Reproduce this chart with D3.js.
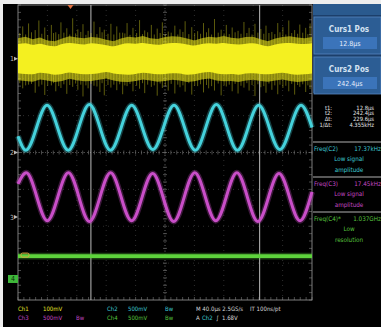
<!DOCTYPE html>
<html><head><meta charset="utf-8">
<script src="https://cdn.jsdelivr.net/npm/d3@7"></script>
<style>
html,body{margin:0;padding:0;background:#fff;}
svg{display:block;}
text{font-family:"DejaVu Sans","Liberation Sans",sans-serif;font-stretch:condensed;}
</style></head>
<body>
<svg id="c" width="381" height="327"></svg>
<script>
// ---------------- DATA ----------------
const timeDomain = [-86.4, 313.6];
const cursorTimes = [12.8, 242.4];
const ch2Points = [[-86.4,0.22],[-75.7,0.03],[-46.9,0.64],[-18.1,0.03],[10.7,0.65],[39.5,0.03],[68.3,0.64],[97.1,0.04],[125.9,0.64],[154.7,0.03],[183.5,0.65],[212.3,0.03],[241.1,0.64],[269.9,0.04],[298.7,0.64],[313.6,0.34]];
const ch3Points = [[-86.4,0.45],[-75.2,0.60],[-46.5,-0.05],[-17.8,0.60],[10.8,-0.06],[39.5,0.60],[68.1,-0.05],[96.8,0.59],[125.4,-0.06],[154.1,0.60],[182.7,-0.05],[211.4,0.60],[240.0,-0.06],[268.7,0.59],[297.3,-0.05],[313.6,0.34]];
const ch4Points = [[-86.4,0.31],[0,0.31],[100,0.31],[200,0.31],[313.6,0.31]];
const ch1Times = [-86.4,-76.4,-66.4,-56.4,-46.4,-36.4,-26.4,-16.4,-6.4,3.6,13.6,23.6,33.6,43.6,53.6,63.6,73.6,83.6,93.6,103.6,113.6,123.6,133.6,143.6,153.6,163.6,173.6,183.6,193.6,203.6,213.6,223.6,233.6,243.6,253.6,263.6,273.6,283.6,293.6,303.6,313.6];
const ch1CoreHi = [40,42,38,41,36,34,40,43,41,39,42,40,37,34,39,42,41,43,40,38,41,43,42,39,36,40,42,41,43,40,39,41,42,38,34,39,42,43,41,40,42];
const ch1CoreLo = [-39,-41,-42,-38,-40,-43,-41,-37,-40,-42,-41,-39,-36,-40,-42,-43,-41,-38,-40,-42,-41,-39,-40,-43,-42,-38,-36,-40,-42,-41,-43,-40,-39,-41,-42,-40,-38,-41,-43,-42,-40];
const ch1FringeHi = [56,60,53,58,50,48,55,61,58,56,59,57,52,48,55,60,58,62,56,54,59,61,60,55,50,56,60,58,62,57,55,59,60,53,48,55,59,61,58,56,59];
const ch1FringeLo = [-58,-60,-62,-56,-59,-63,-60,-54,-58,-61,-60,-57,-53,-59,-62,-63,-60,-56,-59,-62,-60,-57,-59,-63,-61,-56,-53,-59,-61,-60,-63,-59,-57,-60,-62,-59,-56,-60,-63,-61,-58];
// noise hairlines: [time µs, top mV, bottom mV]
const ch1Spikes = [[-84,70,-66],[-80,88,-80],[-76,66,-72],[-72,96,-70],[-68,72,-68],[-63,78,-92],[-58,104,-75],[-54,68,-70],[-50,85,-98],[-46,64,-73],[-41,92,-72],[-38,70,-66],[-35,72,-88],[-31,67,-74],[-28,99,-79],[-24,71,-69],[-20,83,-95],[-16,66,-71],[-12,110,-76],[-8,69,-67],[-5,80,-84],[-1,73,-70],[2,94,-102],[6,65,-72],[9,76,-80],[13,70,-68],[17,101,-73],[21,67,-75],[25,86,-90],[28,72,-66],[31,79,-99],[36,68,-71],[40,95,-78],[44,66,-70],[48,88,-85],[52,71,-69],[56,71,-96],[59,69,-72],[62,97,-74],[66,65,-68],[70,84,-88],[75,70,-73],[79,105,-81],[83,67,-66],[86,77,-93],[90,72,-70],[95,92,-76],[99,66,-72],[103,82,-100],[107,70,-67],[110,99,-79],[114,68,-74],[118,74,-86],[122,71,-68],[127,90,-94],[131,66,-70],[134,80,-77],[138,73,-72],[141,102,-89],[146,67,-66],[150,86,-97],[154,70,-73],[158,75,-74],[162,68,-69],[166,97,-91],[170,72,-71],[173,83,-80],[177,66,-74],[181,108,-86],[186,71,-67],[190,79,-99],[194,69,-72],[197,92,-75],[201,67,-70],[205,85,-88],[209,72,-68],[213,76,-94],[217,68,-73],[221,100,-78],[225,70,-66],[228,84,-86],[232,66,-71],[236,95,-101],[240,71,-69],[244,81,-77],[248,68,-74],[251,90,-92],[255,70,-67],[259,73,-84],[263,67,-72],[267,97,-96],[270,72,-70],[274,86,-79],[278,66,-73],[282,104,-88],[286,70,-68],[290,78,-97],[294,68,-71],[297,93,-76],[301,71,-69],[305,84,-90],[308,67,-72],[311,96,-82]];
const ch1VoltsPerDiv = 0.1, ch2VoltsPerDiv = 0.5, ch3VoltsPerDiv = 0.5, ch4VoltsPerDiv = 0.5;
const row1Labels = [["Ch1","#e6e22a"],["100mV","#e6e22a"],["Ch2","#3fc9d3"],["500mV","#3fc9d3"],["Bw","#3fc9d3"],["M 40.0µs 2.5GS/s","#d8d8d8"],["IT 100ns/pt","#d8d8d8"]];
const row2Labels = [["Ch3","#c448c4"],["500mV","#c448c4"],["Bw","#c448c4"],["Ch4","#57c23e"],["500mV","#57c23e"],["Bw","#57c23e"],["A","#d8d8d8"],["Ch2","#3fc9d3"],["∫","#d8d8d8"],["1.68V","#d8d8d8"]];
const cursorBoxes = [["Curs1 Pos","12.8µs"],["Curs2 Pos","242.4µs"]];
const readLabels = ["t1:","t2:","Δt:","1/Δt:"];
const readValues = ["12.8µs","242.4µs","229.6µs","4.355kHz"];
const measures = [["Freq(C2)","17.37kHz","#3fc9d3",["Low signal","amplitude"]],["Freq(C3)","17.45kHz","#c448c4",["Low signal","amplitude"]],["Freq(C4)*","1.037GHz","#57c23e",["Low","resolution"]]];

// ---------------- LAYOUT ----------------
const G = {x0:18, x1:312, y0:5, y1:300};
const xS = d3.scaleLinear().domain(timeDomain).range([G.x0, G.x1]);
const yS = d3.scaleLinear().domain([-4,4]).range([G.y1, G.y0]);
const offs = {1:2.54, 2:0, 3:-1.75, 4:-3.43};

const svg = d3.select("#c");
svg.append("rect").attr("x",0).attr("y",0).attr("width",381).attr("height",327).attr("fill","#eeeeee");
svg.append("rect").attr("x",3).attr("y",4).attr("width",378).attr("height",323).attr("fill","#000");

const gr = svg.append("g");
const divX = d3.range(0,11).map(i => G.x0 + i*(G.x1-G.x0)/10);
const divY = d3.range(-4,5);
divX.slice(1,10).forEach(x => gr.append("line").attr("x1",x).attr("x2",x).attr("y1",G.y0).attr("y2",G.y1)
  .attr("stroke","#3a3a3a").attr("stroke-width",0.8).attr("stroke-dasharray","1,4"));
divY.slice(1,8).forEach(d => gr.append("line").attr("x1",G.x0).attr("x2",G.x1).attr("y1",yS(d)).attr("y2",yS(d))
  .attr("stroke","#3a3a3a").attr("stroke-width",0.8).attr("stroke-dasharray","1,4"));
const cx = (G.x0+G.x1)/2, cy = yS(0);
gr.append("line").attr("x1",cx).attr("x2",cx).attr("y1",G.y0).attr("y2",G.y1).attr("stroke","#5a5a5a").attr("stroke-width",0.8).attr("stroke-dasharray","1,2");
gr.append("line").attr("x1",G.x0).attr("x2",G.x1).attr("y1",cy).attr("y2",cy).attr("stroke","#5a5a5a").attr("stroke-width",0.8).attr("stroke-dasharray","1,2");
d3.range(0,51).forEach(i => {
  const x = G.x0 + i*(G.x1-G.x0)/50;
  gr.append("line").attr("x1",x).attr("x2",x).attr("y1",cy-2).attr("y2",cy+2).attr("stroke","#6a6a6a").attr("stroke-width",0.7);
  gr.append("line").attr("x1",x).attr("x2",x).attr("y1",G.y1-3).attr("y2",G.y1).attr("stroke","#6a6a6a").attr("stroke-width",0.7);
});
d3.range(0,41).forEach(i => {
  const y = G.y0 + i*(G.y1-G.y0)/40;
  gr.append("line").attr("x1",cx-2).attr("x2",cx+2).attr("y1",y).attr("y2",y).attr("stroke","#6a6a6a").attr("stroke-width",0.7);
  gr.append("line").attr("x1",G.x0).attr("x2",G.x0+3).attr("y1",y).attr("y2",y).attr("stroke","#6a6a6a").attr("stroke-width",0.7);
  gr.append("line").attr("x1",G.x1-3).attr("x2",G.x1).attr("y1",y).attr("y2",y).attr("stroke","#6a6a6a").attr("stroke-width",0.7);
});
gr.append("rect").attr("x",G.x0).attr("y",G.y0).attr("width",G.x1-G.x0).attr("height",G.y1-G.y0)
  .attr("fill","none").attr("stroke","#8a8a8a").attr("stroke-width",0.9);

cursorTimes.forEach(t => svg.append("line").attr("x1",xS(t)).attr("x2",xS(t)).attr("y1",G.y0).attr("y2",G.y1)
  .attr("stroke","#bdbdbd").attr("stroke-width",1));

// ch1 noise
const y1 = mv => yS(offs[1] + mv/1000/ch1VoltsPerDiv);
const spk = svg.append("g");
ch1Spikes.forEach(s => spk.append("line").attr("x1",xS(s[0])).attr("x2",xS(s[0])).attr("y1",y1(s[1])).attr("y2",y1(s[2]))
  .attr("stroke","#e8e420").attr("stroke-width",0.9).attr("opacity",0.45));
const areaF = d3.area().x((d,i)=>xS(ch1Times[i])).curve(d3.curveLinear);
svg.append("path").datum(ch1Times).attr("d", areaF.y0((d,i)=>y1(ch1FringeLo[i])).y1((d,i)=>y1(ch1FringeHi[i])))
  .attr("fill","#e4e01a").attr("opacity",0.6);
svg.append("path").datum(ch1Times).attr("d", areaF.y0((d,i)=>y1(ch1CoreLo[i])).y1((d,i)=>y1(ch1CoreHi[i])).curve(d3.curveMonotoneX))
  .attr("fill","#f4f020");

function trace(pts, ch, vpd, color, w){
  const line = d3.line().x(d=>xS(d[0])).y(d=>yS(offs[ch] + d[1]/vpd)).curve(d3.curveMonotoneX);
  svg.append("path").attr("d",line(pts)).attr("fill","none").attr("stroke",color).attr("stroke-width",w+3).attr("opacity",0.3);
  svg.append("path").attr("d",line(pts)).attr("fill","none").attr("stroke",color).attr("stroke-width",w);
}
trace(ch2Points, 2, ch2VoltsPerDiv, "#45d2dc", 3.0);
trace(ch3Points, 3, ch3VoltsPerDiv, "#c94ec8", 3.0);
trace(ch4Points, 4, ch4VoltsPerDiv, "#5ed43c", 3.6);

const mk = svg.append("g");
[[1,"1"],[2,"2"],[3,"3"]].forEach(([c,l]) => {
  const y = yS(offs[c]);
  mk.append("text").attr("x",10).attr("y",y+2.5).attr("font-size",7).attr("fill","#b8b8b8").text(l);
  mk.append("path").attr("d",`M14,${y-2}L18,${y}L14,${y+2}Z`).attr("fill","#b8b8b8");
});
const y4 = yS(offs[4]);
mk.append("rect").attr("x",8).attr("y",y4-4).attr("width",10).attr("height",8).attr("fill","#3fb83a");
mk.append("text").attr("x",13).attr("y",y4+2.5).attr("text-anchor","middle").attr("font-size",7).attr("fill","#0a2a0a").text("4");
mk.append("rect").attr("x",21).attr("y",yS(offs[4]+ch4Points[0][1]/ch4VoltsPerDiv)-3).attr("width",8).attr("height",4).attr("rx",1.5)
  .attr("fill","none").attr("stroke","#e0a040").attr("stroke-width",1);
mk.append("path").attr("d",`M${xS(-15)-3},5L${xS(-15)+3},5L${xS(-15)},9Z`).attr("fill","#e07040");

const row1X = [18,43,107,128,165,196,250];
const row2X = [18,43,76,107,128,165,196,202,216,222];
row1Labels.forEach((l,i)=>svg.append("text").attr("x",row1X[i]).attr("y",310.5).attr("font-size",6).attr("fill",l[1]).text(l[0]));
row2Labels.forEach((l,i)=>svg.append("text").attr("x",row2X[i]).attr("y",320).attr("font-size",6).attr("fill",l[1]).text(l[0]));

const P = svg.append("g");
P.append("rect").attr("x",313).attr("y",4).attr("width",68).attr("height",89).attr("fill","#1c3f6b");
P.append("rect").attr("x",313).attr("y",4).attr("width",68).attr("height",11).attr("fill","#2a5a8e");
cursorBoxes.forEach((b,i)=>{
  const y = 17 + i*40;
  P.append("rect").attr("x",314).attr("y",y).attr("width",67).attr("height",37).attr("fill","#2c5d94").attr("stroke","#5586bd").attr("stroke-width",0.8);
  P.append("text").attr("x",349).attr("y",y+15).attr("text-anchor","middle").attr("font-size",8).attr("font-weight","bold").attr("fill","#d4e2f2").text(b[0]);
  P.append("rect").attr("x",323).attr("y",y+20).attr("width",54).attr("height",12).attr("fill","#3b74ba");
  P.append("text").attr("x",350).attr("y",y+29).attr("text-anchor","middle").attr("font-size",7).attr("fill","#e6eefa").text(b[1]);
});
readLabels.forEach((l,i)=>{
  P.append("text").attr("x",332).attr("y",109.5+i*5.8).attr("text-anchor","end").attr("font-size",5.8).attr("fill","#e2e2e2").text(l);
  P.append("text").attr("x",374).attr("y",109.5+i*5.8).attr("text-anchor","end").attr("font-size",5.8).attr("fill","#e2e2e2").text(readValues[i]);
});
const sepY = [142,177,212];
measures.forEach((m,i)=>{
  const y = sepY[i];
  P.append("line").attr("x1",313).attr("x2",381).attr("y1",y).attr("y2",y).attr("stroke","#b0b0b0").attr("stroke-width",1);
  P.append("text").attr("x",314).attr("y",y+8.5).attr("font-size",6.3).attr("fill",m[2]).text(m[0]);
  P.append("text").attr("x",381).attr("y",y+8.5).attr("text-anchor","end").attr("font-size",6.3).attr("fill",m[2]).text(m[1]);
  m[3].forEach((t,j)=>P.append("text").attr("x",349).attr("y",y+19+j*10.5).attr("text-anchor","middle").attr("font-size",6.3).attr("fill",m[2]).text(t));
});
</script>
</body></html>
